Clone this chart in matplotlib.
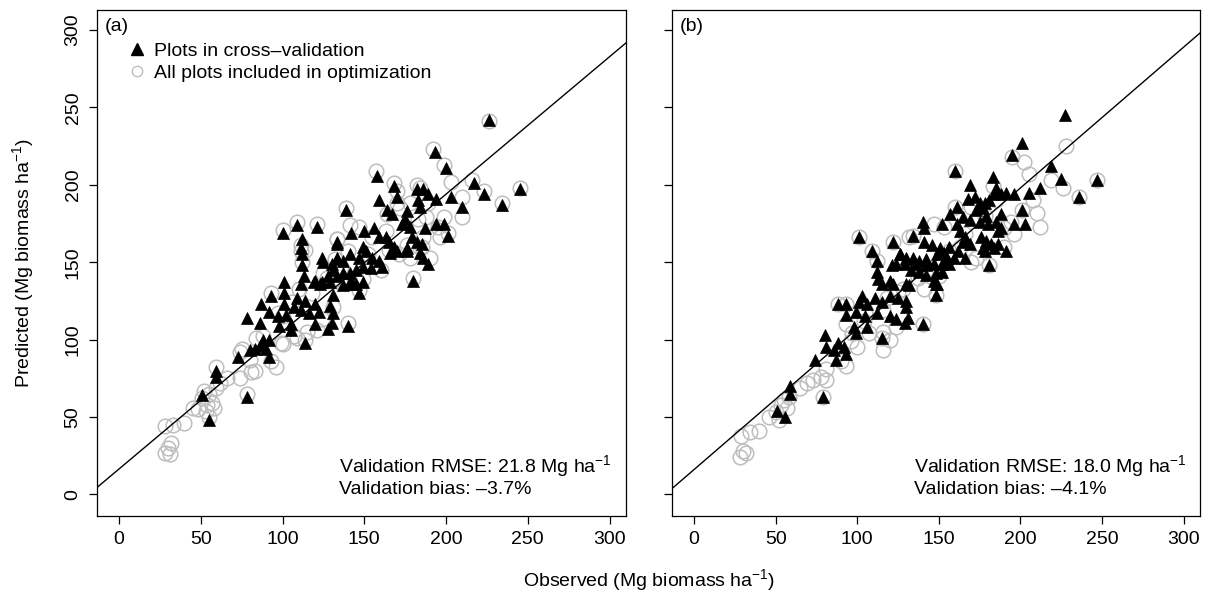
import numpy as np
import matplotlib.pyplot as plt
from matplotlib.lines import Line2D

plt.rcParams['font.family'] = ['Liberation Sans', 'DejaVu Sans']
plt.rcParams['mathtext.fontset'] = 'custom'
plt.rcParams['mathtext.rm'] = 'Liberation Sans'
plt.rcParams['mathtext.it'] = 'Liberation Sans:italic'

# ---- panel (a) ----
a_cv_x = [226, 193, 200, 158, 168, 217, 223, 245, 234, 182, 186, 189, 170, 159, 183, 194, 203, 210, 184,
          139, 164, 167, 176, 175, 173, 194, 199, 187, 178, 201, 142, 150, 156, 133, 163, 165, 159, 179, 182, 185,
          176, 176, 184, 186, 189, 168, 170, 166, 149, 151, 147, 155, 159, 141, 137, 133, 130,
          161, 154, 149, 145, 141, 137, 133, 180, 141, 145, 149, 137,
          101, 111, 119, 124, 129, 93, 101, 109, 114, 120, 101, 107, 87,
          92, 97, 102, 111, 116, 122, 129, 131, 78, 86, 98, 105, 105, 120, 128, 114,
          88, 92, 86, 83, 90, 80, 73, 92, 59, 59, 51, 78, 55,
          100, 109, 121, 133, 112, 111, 112, 124, 125, 133, 112, 113, 120, 123, 128, 131,
          147, 143, 131, 130, 140]
a_cv_y = [242, 221, 211, 206, 199, 201, 194, 197, 187, 197, 197, 194, 192, 190, 190, 191, 192, 186, 186,
          184, 184, 181, 183, 178, 175, 175, 175, 172, 173, 167, 169, 170, 172, 162, 166, 163, 166, 166, 163, 162,
          159, 157, 156, 153, 149, 160, 157, 156, 160, 157, 153, 153, 151, 155, 151, 153, 149,
          147, 146, 147, 145, 143, 143, 141, 138, 137, 136, 137, 135,
          137, 136, 137, 137, 137, 128, 130, 127, 125, 123, 123, 121, 123,
          118, 115, 116, 119, 117, 118, 122, 117, 114, 111, 109, 110, 106, 110, 107, 98,
          100, 100, 96, 94, 94, 93, 89, 89, 80, 76, 64, 63, 48,
          169, 174, 173, 163, 165, 159, 155, 153, 150, 152, 148, 141, 138, 136, 141, 145,
          130, 136, 129, 111, 109]

a_all_x = [203, 210, 210, 199, 184, 170, 178, 164, 183, 188, 141, 147, 186, 190, 171, 133, 140, 196, 131, 135,
           149, 178, 74, 80, 83, 81, 93, 96, 100, 109, 66, 74, 62, 59, 52, 55, 51, 57, 54, 58, 48, 53, 45,
           40, 33, 28, 32, 30, 28, 31, 100, 107, 115, 121, 124, 99, 84, 75, 114, 132, 125, 131,
           192, 199, 157, 168, 245, 234, 139, 201, 180, 216, 223, 93, 114, 78, 55, 59, 100, 109, 121, 133,
           111, 111, 112, 147, 140, 226, 176, 165, 150, 160, 185, 195, 172, 145, 136, 152, 163, 118, 106,
           97, 88, 127, 110, 170, 155, 189, 182]
a_all_y = [202, 192, 179, 179, 198, 188, 188, 181, 178, 179, 174, 173, 166, 153, 155, 165, 157, 166, 138, 137,
           139, 153, 92, 87, 80, 79, 86, 82, 97, 101, 75, 75, 72, 69, 67, 65, 62, 59, 58, 56, 55, 54, 56,
           46, 45, 44, 33, 30, 27, 26, 115, 102, 105, 106, 113, 98, 101, 94, 158, 152, 143, 121,
           223, 213, 209, 201, 198, 188, 185, 169, 140, 203, 196, 130, 100, 65, 50, 82, 171, 176, 175, 165,
           161, 157, 150, 132, 111, 241, 161, 158, 149, 145, 160, 173, 185, 140, 147, 155, 170, 130, 124,
           117, 102, 140, 133, 196, 166, 188, 200]

# ---- panel (b) ----
b_cv_x = [227, 201, 195, 219, 160, 225, 247, 236, 183, 169, 212, 205,
          185, 188, 184, 191, 196, 168, 172, 175, 178, 177, 181,
          161, 157, 165, 173, 179, 201, 188, 140, 141, 152,
          161, 169, 175, 180, 185, 196, 203, 188, 186, 134,
          163, 166, 165, 169, 176, 179, 182, 186,
          141, 146, 151, 156, 177, 178, 184, 191,
          162, 166, 159, 155, 153, 149, 181,
          126, 130, 134, 138, 142, 129, 136, 142, 147, 152, 156,
          133, 138, 142, 148, 152, 147, 149, 132,
          101, 122, 109, 112, 126, 124, 130, 121, 112, 113, 120, 122, 115, 130,
          103, 101, 106, 111, 115, 120, 125, 130, 130,
          88, 93, 93, 99, 105, 112, 120, 124, 129,
          98, 106, 99, 115, 80, 81, 88, 86, 92, 93, 87, 74,
          59, 59, 51, 56, 79, 148, 148, 131, 140]
b_cv_y = [245, 227, 219, 212, 209, 204, 203, 192, 205, 200, 198, 195,
          198, 194, 194, 195, 194, 191, 192, 188, 188, 185, 190,
          186, 181, 179, 184, 180, 184, 181, 176, 172, 175,
          175, 177, 176, 175, 176, 175, 175, 172, 170, 167,
          170, 166, 163, 162, 166, 164, 162, 162,
          163, 161, 159, 160, 159, 157, 159, 157,
          157, 153, 153, 153, 156, 155, 148,
          155, 153, 153, 151, 152, 149, 149, 148, 149, 149, 149,
          145, 144, 142, 143, 144, 138, 136, 135,
          166, 163, 157, 151, 155, 149, 152, 148, 144, 139, 138, 136, 136, 136,
          128, 124, 123, 127, 124, 128, 127, 125, 121,
          123, 123, 116, 118, 115, 117, 115, 113, 111,
          108, 108, 104, 101, 103, 95, 98, 93, 95, 91, 87, 87,
          70, 65, 54, 50, 63, 136, 129, 114, 110]

b_all_x = [202, 205, 219, 226, 212, 194, 170, 173, 190, 147, 153, 160,
           93, 97, 107, 116, 124, 120, 116, 100, 93, 90, 81, 78, 81, 73, 69, 65, 58, 55, 53, 57, 50, 46,
           52, 40, 34, 29, 30, 32, 28, 141, 195, 160, 247, 236, 201, 134, 181, 101, 122, 132, 109, 112,
           88, 93, 115, 79, 148, 140, 185, 178, 166, 156, 145, 137, 125, 118, 105, 170, 183, 190, 208,
           210, 196, 163, 150, 128, 116, 104, 96, 228]
b_all_y = [215, 207, 203, 198, 173, 176, 150, 153, 160, 175, 173, 186,
           110, 104, 104, 105, 108, 100, 93, 95, 83, 86, 81, 76, 74, 74, 72, 69, 63, 61, 58, 56, 53, 50,
           48, 41, 40, 38, 28, 27, 24, 133, 218, 209, 203, 192, 184, 167, 148, 166, 163, 166, 157, 151,
           123, 123, 101, 63, 129, 110, 190, 180, 168, 157, 146, 140, 131, 127, 117, 186, 199, 172, 190,
           182, 168, 160, 141, 133, 119, 112, 99, 225]

# regression lines (intercept, slope)
a_fit = (16.4, 0.888)
b_fit = (16.0, 0.910)

ticks = [0, 50, 100, 150, 200, 250, 300]
fs = 14

fig = plt.figure(figsize=(12.06, 5.94), dpi=100)
ax_a = fig.add_axes([0.0804, 0.1313, 0.4386, 0.8519])
ax_b = fig.add_axes([0.5572, 0.1313, 0.4378, 0.8519])

panels = [
    (ax_a, a_all_x, a_all_y, a_cv_x, a_cv_y, a_fit, '(a)', 'Validation RMSE: 21.8 Mg ha$^{-1}$', 'Validation bias: \u20133.7%'),
    (ax_b, b_all_x, b_all_y, b_cv_x, b_cv_y, b_fit, '(b)', 'Validation RMSE: 18.0 Mg ha$^{-1}$', 'Validation bias: \u20134.1%'),
]

for ax, ax_x, ax_y, cx, cy, fit, tag, rmse, bias in panels:
    ax.plot(ax_x, ax_y, 'o', ms=10.5, mfc='none', mec='#bebebe', mew=1.1, zorder=2)
    ax.plot(cx, cy, '^', ms=9, color='black', mec='black', mew=0.5, zorder=3)
    ax.axline((0, fit[0]), slope=fit[1], color='black', lw=1.0, zorder=4)
    ax.set_xlim(-13.5, 310)
    ax.set_ylim(-14, 313)
    ax.set_xticks(ticks)
    ax.set_yticks(ticks)
    ax.tick_params(direction='out', length=6, width=0.9, labelsize=fs, pad=5)
    for lab in ax.get_yticklabels():
        lab.set_rotation(90)
        lab.set_va('center')
    for s in ax.spines.values():
        s.set_linewidth(0.9)
    ax.text(0.014, 0.968, tag, transform=ax.transAxes, fontsize=fs, ha='left', va='center')
    ax.text(0.458, 0.099, rmse, transform=ax.transAxes, fontsize=fs, ha='left', va='center')
    ax.text(0.458, 0.052, bias, transform=ax.transAxes, fontsize=fs, ha='left', va='center')

ax_b.tick_params(axis='y', labelleft=False)

handles = [
    Line2D([], [], marker='^', ls='none', color='black', ms=8, label='Plots in cross\u2013validation'),
    Line2D([], [], marker='o', ls='none', mfc='none', mec='#bebebe', ms=7.5, mew=1.0,
           label='All plots included in optimization'),
]
ax_a.legend(handles=handles, loc='upper left', bbox_to_anchor=(0.040, 0.955), frameon=False,
            fontsize=fs, handlelength=0.9, handletextpad=0.45, labelspacing=0.22, borderpad=0.0)

fig.text(0.538, 0.024, 'Observed (Mg biomass ha$^{-1}$)', ha='center', va='center', fontsize=fs)
fig.text(0.019, 0.557, 'Predicted (Mg biomass ha$^{-1}$)', ha='center', va='center', rotation=90, fontsize=fs)

fig.savefig('out.png', dpi=100)
